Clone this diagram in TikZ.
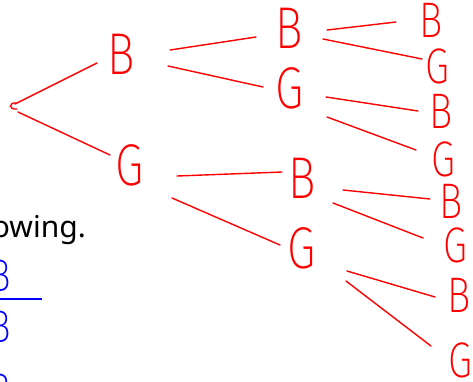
\documentclass[tikz,border=0pt]{standalone}
\usepackage{fontspec}
\newfontfamily\hand{Fira Sans}[UprightFont={* ExtraLight}, FakeStretch=0.78]
\newfontfamily\notetext{Noto Sans}
\begin{document}
\begin{tikzpicture}[x=1pt,y=-1pt,
  tree/.style={draw=red, line width=1.4pt, line cap=round, line join=round},
  leaf/.style={text=red, inner sep=0pt, font=\hand\fontsize{59}{62}\selectfont},
  smallleaf/.style={leaf, font=\hand\fontsize{50}{54}\selectfont},
  work/.style={text=blue, inner sep=0pt, font=\hand\fontsize{46}{50}\selectfont}]
\useasboundingbox (0,0) rectangle (473,381);

% branching point
\coordinate (root) at (13,107);
\draw[tree] ([shift={(3,-4)}]root) .. controls ([shift={(-4,-5)}]root) and ([shift={(-5,3)}]root) .. ([shift={(4,2)}]root);

% first child
\node[leaf] (b) at (121,54) {B};
\node[leaf] (g) at (130,165) {G};
% second child
\node[leaf] (bb) at (289,28) {B};
\node[leaf] (bg) at (290,88) {G};
\node[leaf] (gb) at (302,178) {B};
\node[leaf] (gg) at (302,248) {G};
% third child
\node[smallleaf] (bbb) at (431,20) {B};
\node[smallleaf] (bbg) at (437,66) {G};
\node[smallleaf] (bgb) at (441,111) {B};
\node[smallleaf] (bgg) at (443,159) {G};
\node[smallleaf] (gbb) at (451,201) {B};
\node[smallleaf] (gbg) at (455,245) {G};
\node[smallleaf] (ggb) at (459,295) {B};
\node[smallleaf] (ggg) at (460,360) {G};

% branches
\draw[tree] ([shift={(2,-3)}]root) -- ([shift={(-24,9)}]b.center);
\draw[tree] ([shift={(5,5)}]root) -- ([shift={(-20,-10)}]g.center);

\draw[tree] ([shift={(49,-4)}]b.center) -- ([shift={(-33,9)}]bb.center);
\draw[tree] ([shift={(47,12)}]b.center) -- ([shift={(-27,-1)}]bg.center);
\draw[tree] ([shift={(47,11)}]g.center) -- ([shift={(-20,-6)}]gb.center);
\draw[tree] ([shift={(42,33)}]g.center) -- ([shift={(-22,-3)}]gg.center);

\draw[tree] ([shift={(38,2)}]bb.center) -- ([shift={(-35,2)}]bbb.center);
\draw[tree] ([shift={(34,11)}]bb.center) -- ([shift={(-15,-7)}]bbg.center);
\draw[tree] ([shift={(36,9)}]bg.center) -- ([shift={(-23,0)}]bgb.center);
\draw[tree] ([shift={(37,29)}]bg.center) -- ([shift={(-27,-9)}]bgg.center);
\draw[tree] ([shift={(41,12)}]gb.center) -- ([shift={(-21,-2)}]gbb.center);
\draw[tree] ([shift={(31,25)}]gb.center) -- ([shift={(-32,-7)}]gbg.center);
\draw[tree] ([shift={(45,23)}]gg.center) -- ([shift={(-24,2)}]ggb.center);
\draw[tree] ([shift={(44,33)}]gg.center) -- ([shift={(-29,-14)}]ggg.center);

% text and working at the left edge
\node[anchor=base east, inner sep=0pt, font=\notetext\fontsize{30}{34}\selectfont] (caption) at (86,237) {owing.};
\node[work] (num) at (0,276) {B};
\node[work] (den) at (0,327) {B};
\node[work] (next) at (0,390) {B};
\coordinate (barend) at (42,299);
\draw[draw=blue, line width=1.3pt] (barend) -- ++(-45,0);
\end{tikzpicture}
\end{document}
